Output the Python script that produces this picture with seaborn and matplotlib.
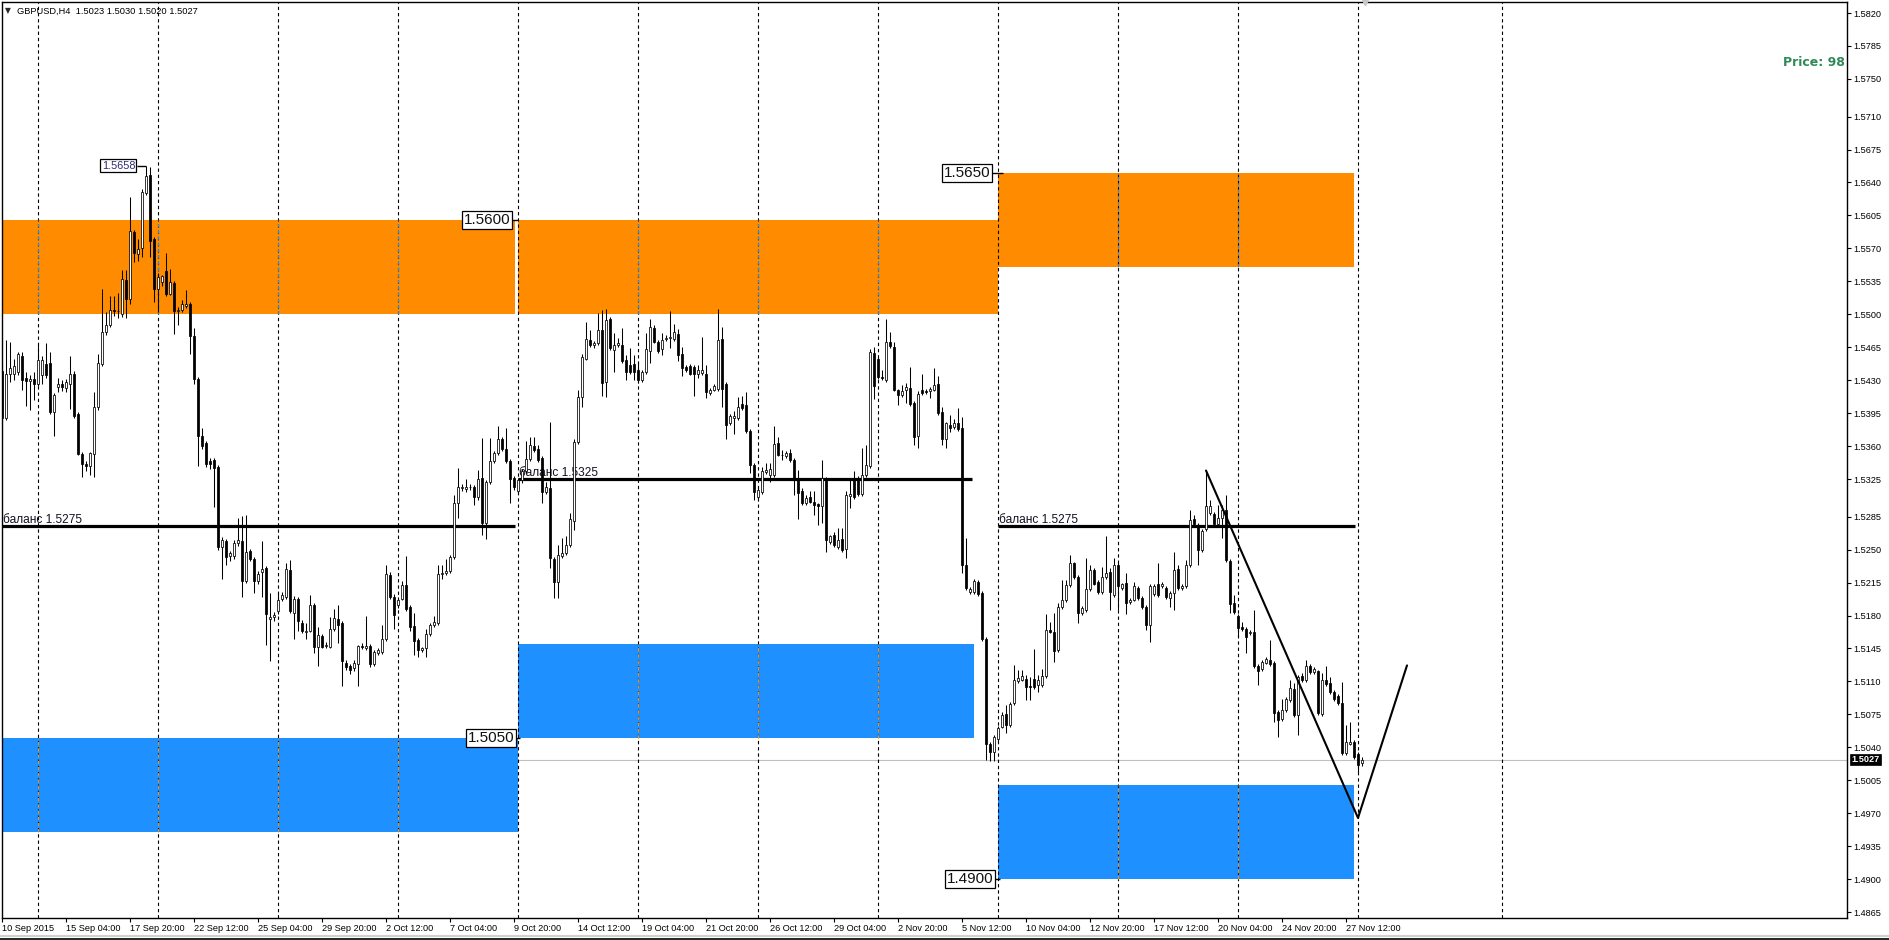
import numpy as np
import pandas as pd
import matplotlib
matplotlib.use("Agg")
import matplotlib.pyplot as plt
import matplotlib.transforms as mtransforms
from matplotlib.patches import Rectangle
import seaborn as sns

# ---------------- data (GBPUSD H4 candles) ----------------
OPEN = [
 1.5440, 1.5390, 1.5437, 1.5437, 1.5439, 1.5456, 1.5432, 1.5429, 1.5431, 1.5426,
 1.5436, 1.5447, 1.5448, 1.5396, 1.5423, 1.5426, 1.5422, 1.5426, 1.5437, 1.5394,
 1.5352, 1.5341, 1.5339, 1.5352, 1.5401, 1.5447, 1.5481, 1.5489, 1.5505, 1.5503,
 1.5500, 1.5536, 1.5516, 1.5587, 1.5564, 1.5570, 1.5629, 1.5648, 1.5580, 1.5527,
 1.5534, 1.5546, 1.5522, 1.5533, 1.5503, 1.5505, 1.5509, 1.5511, 1.5477, 1.5431,
 1.5371, 1.5363, 1.5344, 1.5345, 1.5338, 1.5253, 1.5259, 1.5243, 1.5243, 1.5257,
 1.5259, 1.5217, 1.5249, 1.5240, 1.5217, 1.5226, 1.5230, 1.5176, 1.5178, 1.5185,
 1.5198, 1.5200, 1.5228, 1.5183, 1.5198, 1.5172, 1.5163, 1.5164, 1.5191, 1.5147,
 1.5158, 1.5148, 1.5147, 1.5166, 1.5176, 1.5172, 1.5130, 1.5126, 1.5124, 1.5128,
 1.5148, 1.5146, 1.5148, 1.5128, 1.5140, 1.5141, 1.5155, 1.5223, 1.5200, 1.5191,
 1.5198, 1.5212, 1.5189, 1.5169, 1.5154, 1.5143, 1.5145, 1.5160, 1.5170, 1.5172,
 1.5224, 1.5225, 1.5227, 1.5242, 1.5299, 1.5315, 1.5314, 1.5316, 1.5317, 1.5306,
 1.5326, 1.5278, 1.5322, 1.5344, 1.5353, 1.5368, 1.5357, 1.5344, 1.5326, 1.5312,
 1.5324, 1.5333, 1.5346, 1.5360, 1.5357, 1.5347, 1.5311, 1.5315, 1.5240, 1.5216,
 1.5243, 1.5246, 1.5255, 1.5280, 1.5364, 1.5412, 1.5453, 1.5473, 1.5467, 1.5469,
 1.5483, 1.5428, 1.5495, 1.5462, 1.5467, 1.5467, 1.5451, 1.5446, 1.5447, 1.5441,
 1.5430, 1.5439, 1.5461, 1.5485, 1.5471, 1.5463, 1.5474, 1.5475, 1.5474, 1.5479,
 1.5458, 1.5444, 1.5445, 1.5444, 1.5437, 1.5438, 1.5437, 1.5416, 1.5420, 1.5421,
 1.5474, 1.5426, 1.5384, 1.5390, 1.5390, 1.5405, 1.5404, 1.5376, 1.5340, 1.5306,
 1.5311, 1.5332, 1.5329, 1.5329, 1.5363, 1.5351, 1.5349, 1.5353, 1.5345, 1.5324,
 1.5312, 1.5299, 1.5306, 1.5301, 1.5298, 1.5296, 1.5326, 1.5258, 1.5266, 1.5253,
 1.5261, 1.5251, 1.5307, 1.5325, 1.5326, 1.5309, 1.5329, 1.5339, 1.5459, 1.5453,
 1.5433, 1.5430, 1.5471, 1.5465, 1.5420, 1.5414, 1.5420, 1.5422, 1.5406, 1.5371,
 1.5420, 1.5419, 1.5418, 1.5420, 1.5426, 1.5396, 1.5368, 1.5382, 1.5380, 1.5384,
 1.5379, 1.5234, 1.5205, 1.5205, 1.5216, 1.5204, 1.5155, 1.5044, 1.5035, 1.5049,
 1.5062, 1.5075, 1.5064, 1.5087, 1.5110, 1.5112, 1.5113, 1.5105, 1.5113, 1.5106,
 1.5106, 1.5116, 1.5165, 1.5162, 1.5143, 1.5189, 1.5196, 1.5212, 1.5236, 1.5221,
 1.5183, 1.5186, 1.5208, 1.5228, 1.5216, 1.5205, 1.5221, 1.5226, 1.5202, 1.5234,
 1.5209, 1.5215, 1.5194, 1.5197, 1.5209, 1.5199, 1.5189, 1.5170, 1.5203, 1.5213,
 1.5211, 1.5209, 1.5199, 1.5204, 1.5229, 1.5209, 1.5211, 1.5234, 1.5282, 1.5276,
 1.5250, 1.5272, 1.5289, 1.5288, 1.5277, 1.5284, 1.5292, 1.5238, 1.5193, 1.5180,
 1.5168, 1.5166, 1.5161, 1.5162, 1.5126, 1.5123, 1.5130, 1.5133, 1.5130, 1.5078,
 1.5070, 1.5080, 1.5090, 1.5102, 1.5074, 1.5116, 1.5111, 1.5126, 1.5120, 1.5121,
 1.5075, 1.5112, 1.5108, 1.5099, 1.5095, 1.5087, 1.5034, 1.5044, 1.5046, 1.5033, 1.5023,
]
HIGH = [
 1.5448, 1.5473, 1.5471, 1.5452, 1.5460, 1.5460, 1.5439, 1.5436, 1.5439, 1.5467,
 1.5456, 1.5470, 1.5460, 1.5416, 1.5432, 1.5430, 1.5431, 1.5456, 1.5440, 1.5396,
 1.5354, 1.5344, 1.5354, 1.5417, 1.5458, 1.5527, 1.5502, 1.5519, 1.5519, 1.5523,
 1.5547, 1.5547, 1.5625, 1.5590, 1.5580, 1.5633, 1.5658, 1.5656, 1.5582, 1.5544,
 1.5542, 1.5565, 1.5548, 1.5535, 1.5508, 1.5515, 1.5526, 1.5513, 1.5485, 1.5433,
 1.5379, 1.5365, 1.5347, 1.5347, 1.5340, 1.5263, 1.5261, 1.5249, 1.5260, 1.5284,
 1.5286, 1.5287, 1.5251, 1.5242, 1.5227, 1.5259, 1.5233, 1.5204, 1.5184, 1.5204,
 1.5205, 1.5236, 1.5239, 1.5201, 1.5200, 1.5175, 1.5172, 1.5202, 1.5193, 1.5168,
 1.5160, 1.5152, 1.5178, 1.5187, 1.5191, 1.5174, 1.5133, 1.5128, 1.5133, 1.5149,
 1.5151, 1.5179, 1.5150, 1.5143, 1.5146, 1.5170, 1.5234, 1.5226, 1.5203, 1.5200,
 1.5217, 1.5243, 1.5191, 1.5183, 1.5156, 1.5147, 1.5166, 1.5172, 1.5179, 1.5234,
 1.5234, 1.5240, 1.5244, 1.5308, 1.5337, 1.5320, 1.5325, 1.5320, 1.5319, 1.5335,
 1.5369, 1.5324, 1.5369, 1.5355, 1.5381, 1.5370, 1.5379, 1.5346, 1.5328, 1.5326,
 1.5336, 1.5365, 1.5370, 1.5370, 1.5361, 1.5349, 1.5322, 1.5386, 1.5242, 1.5255,
 1.5262, 1.5265, 1.5289, 1.5368, 1.5420, 1.5458, 1.5492, 1.5483, 1.5472, 1.5501,
 1.5505, 1.5506, 1.5497, 1.5480, 1.5475, 1.5485, 1.5457, 1.5464, 1.5457, 1.5448,
 1.5441, 1.5480, 1.5495, 1.5489, 1.5473, 1.5480, 1.5478, 1.5504, 1.5490, 1.5484,
 1.5465, 1.5446, 1.5447, 1.5446, 1.5446, 1.5476, 1.5446, 1.5422, 1.5426, 1.5506,
 1.5487, 1.5428, 1.5394, 1.5397, 1.5412, 1.5413, 1.5417, 1.5378, 1.5342, 1.5316,
 1.5338, 1.5342, 1.5342, 1.5381, 1.5370, 1.5356, 1.5355, 1.5357, 1.5347, 1.5335,
 1.5315, 1.5308, 1.5312, 1.5312, 1.5300, 1.5345, 1.5327, 1.5266, 1.5269, 1.5273,
 1.5273, 1.5312, 1.5324, 1.5334, 1.5328, 1.5358, 1.5361, 1.5463, 1.5465, 1.5455,
 1.5441, 1.5495, 1.5481, 1.5471, 1.5421, 1.5425, 1.5427, 1.5444, 1.5408, 1.5418,
 1.5437, 1.5421, 1.5423, 1.5443, 1.5434, 1.5401, 1.5386, 1.5393, 1.5389, 1.5400,
 1.5391, 1.5262, 1.5210, 1.5219, 1.5218, 1.5206, 1.5157, 1.5046, 1.5053, 1.5063,
 1.5078, 1.5085, 1.5088, 1.5127, 1.5122, 1.5122, 1.5117, 1.5115, 1.5144, 1.5117,
 1.5123, 1.5182, 1.5173, 1.5183, 1.5193, 1.5218, 1.5218, 1.5244, 1.5237, 1.5223,
 1.5190, 1.5241, 1.5234, 1.5230, 1.5218, 1.5232, 1.5264, 1.5230, 1.5241, 1.5237,
 1.5215, 1.5225, 1.5199, 1.5216, 1.5211, 1.5201, 1.5191, 1.5213, 1.5213, 1.5236,
 1.5216, 1.5211, 1.5206, 1.5248, 1.5234, 1.5213, 1.5239, 1.5292, 1.5287, 1.5278,
 1.5272, 1.5334, 1.5303, 1.5290, 1.5297, 1.5297, 1.5308, 1.5240, 1.5202, 1.5182,
 1.5173, 1.5168, 1.5165, 1.5186, 1.5128, 1.5133, 1.5136, 1.5154, 1.5132, 1.5080,
 1.5091, 1.5093, 1.5111, 1.5108, 1.5117, 1.5119, 1.5133, 1.5128, 1.5125, 1.5122,
 1.5119, 1.5126, 1.5115, 1.5101, 1.5097, 1.5109, 1.5064, 1.5067, 1.5048, 1.5035, 1.5030,
]
LOW = [
 1.5368, 1.5388, 1.5428, 1.5430, 1.5435, 1.5420, 1.5403, 1.5398, 1.5409, 1.5424,
 1.5426, 1.5432, 1.5394, 1.5371, 1.5417, 1.5418, 1.5417, 1.5399, 1.5390, 1.5350,
 1.5327, 1.5333, 1.5329, 1.5327, 1.5398, 1.5445, 1.5478, 1.5486, 1.5498, 1.5496,
 1.5497, 1.5496, 1.5511, 1.5555, 1.5557, 1.5561, 1.5627, 1.5561, 1.5513, 1.5502,
 1.5530, 1.5519, 1.5520, 1.5479, 1.5489, 1.5502, 1.5507, 1.5458, 1.5426, 1.5339,
 1.5357, 1.5338, 1.5336, 1.5295, 1.5250, 1.5219, 1.5234, 1.5238, 1.5240, 1.5254,
 1.5200, 1.5215, 1.5238, 1.5204, 1.5214, 1.5200, 1.5149, 1.5132, 1.5174, 1.5182,
 1.5195, 1.5198, 1.5183, 1.5155, 1.5164, 1.5161, 1.5155, 1.5163, 1.5140, 1.5126,
 1.5145, 1.5145, 1.5145, 1.5164, 1.5151, 1.5105, 1.5122, 1.5118, 1.5121, 1.5105,
 1.5144, 1.5143, 1.5125, 1.5126, 1.5138, 1.5139, 1.5153, 1.5198, 1.5166, 1.5188,
 1.5196, 1.5185, 1.5164, 1.5138, 1.5136, 1.5141, 1.5136, 1.5158, 1.5168, 1.5170,
 1.5219, 1.5223, 1.5225, 1.5240, 1.5284, 1.5312, 1.5311, 1.5313, 1.5297, 1.5303,
 1.5266, 1.5261, 1.5320, 1.5342, 1.5351, 1.5355, 1.5342, 1.5299, 1.5313, 1.5310,
 1.5321, 1.5331, 1.5344, 1.5354, 1.5343, 1.5299, 1.5309, 1.5230, 1.5199, 1.5199,
 1.5241, 1.5244, 1.5253, 1.5271, 1.5362, 1.5402, 1.5451, 1.5465, 1.5464, 1.5467,
 1.5413, 1.5412, 1.5462, 1.5439, 1.5465, 1.5448, 1.5430, 1.5437, 1.5430, 1.5427,
 1.5428, 1.5437, 1.5448, 1.5469, 1.5459, 1.5457, 1.5472, 1.5464, 1.5472, 1.5450,
 1.5434, 1.5439, 1.5435, 1.5413, 1.5432, 1.5436, 1.5411, 1.5414, 1.5418, 1.5419,
 1.5402, 1.5368, 1.5382, 1.5373, 1.5388, 1.5398, 1.5374, 1.5331, 1.5303, 1.5304,
 1.5309, 1.5330, 1.5322, 1.5327, 1.5349, 1.5345, 1.5347, 1.5343, 1.5308, 1.5282,
 1.5297, 1.5297, 1.5299, 1.5287, 1.5276, 1.5278, 1.5248, 1.5256, 1.5253, 1.5251,
 1.5248, 1.5241, 1.5294, 1.5304, 1.5307, 1.5307, 1.5327, 1.5337, 1.5410, 1.5431,
 1.5430, 1.5428, 1.5464, 1.5418, 1.5404, 1.5412, 1.5406, 1.5403, 1.5361, 1.5358,
 1.5414, 1.5415, 1.5411, 1.5418, 1.5393, 1.5361, 1.5358, 1.5375, 1.5378, 1.5376,
 1.5225, 1.5207, 1.5203, 1.5203, 1.5201, 1.5153, 1.5027, 1.5026, 1.5025, 1.5047,
 1.5060, 1.5055, 1.5062, 1.5085, 1.5108, 1.5110, 1.5090, 1.5090, 1.5102, 1.5099,
 1.5104, 1.5114, 1.5161, 1.5131, 1.5141, 1.5187, 1.5194, 1.5210, 1.5219, 1.5172,
 1.5181, 1.5184, 1.5206, 1.5212, 1.5203, 1.5203, 1.5219, 1.5186, 1.5200, 1.5186,
 1.5207, 1.5182, 1.5192, 1.5195, 1.5197, 1.5187, 1.5165, 1.5152, 1.5201, 1.5200,
 1.5209, 1.5198, 1.5189, 1.5186, 1.5207, 1.5207, 1.5209, 1.5232, 1.5275, 1.5234,
 1.5248, 1.5270, 1.5287, 1.5275, 1.5275, 1.5262, 1.5237, 1.5183, 1.5182, 1.5157,
 1.5164, 1.5140, 1.5159, 1.5124, 1.5106, 1.5121, 1.5128, 1.5126, 1.5067, 1.5051,
 1.5068, 1.5078, 1.5088, 1.5072, 1.5053, 1.5109, 1.5109, 1.5118, 1.5118, 1.5074,
 1.5073, 1.5105, 1.5097, 1.5089, 1.5085, 1.5032, 1.5032, 1.5042, 1.5028, 1.5014, 1.5020,
]
CLOSE = [
 1.5390, 1.5437, 1.5443, 1.5445, 1.5458, 1.5430, 1.5429, 1.5431, 1.5426, 1.5451,
 1.5451, 1.5435, 1.5396, 1.5414, 1.5426, 1.5423, 1.5428, 1.5437, 1.5392, 1.5352,
 1.5341, 1.5339, 1.5353, 1.5401, 1.5448, 1.5481, 1.5489, 1.5505, 1.5503, 1.5504,
 1.5537, 1.5516, 1.5588, 1.5565, 1.5569, 1.5630, 1.5647, 1.5578, 1.5527, 1.5540,
 1.5541, 1.5521, 1.5534, 1.5503, 1.5505, 1.5511, 1.5511, 1.5477, 1.5431, 1.5371,
 1.5360, 1.5341, 1.5341, 1.5337, 1.5253, 1.5260, 1.5242, 1.5246, 1.5257, 1.5260,
 1.5217, 1.5248, 1.5240, 1.5217, 1.5224, 1.5229, 1.5182, 1.5178, 1.5181, 1.5196,
 1.5202, 1.5229, 1.5185, 1.5198, 1.5174, 1.5164, 1.5164, 1.5191, 1.5147, 1.5159,
 1.5147, 1.5149, 1.5166, 1.5177, 1.5170, 1.5132, 1.5125, 1.5122, 1.5130, 1.5148,
 1.5147, 1.5148, 1.5128, 1.5141, 1.5143, 1.5155, 1.5224, 1.5200, 1.5181, 1.5197,
 1.5212, 1.5187, 1.5168, 1.5153, 1.5143, 1.5145, 1.5160, 1.5170, 1.5173, 1.5224,
 1.5225, 1.5227, 1.5242, 1.5299, 1.5316, 1.5317, 1.5316, 1.5317, 1.5306, 1.5325,
 1.5278, 1.5322, 1.5344, 1.5353, 1.5368, 1.5357, 1.5344, 1.5325, 1.5316, 1.5324,
 1.5333, 1.5346, 1.5361, 1.5356, 1.5345, 1.5311, 1.5316, 1.5241, 1.5216, 1.5244,
 1.5246, 1.5255, 1.5282, 1.5364, 1.5412, 1.5455, 1.5474, 1.5467, 1.5470, 1.5483,
 1.5427, 1.5494, 1.5464, 1.5467, 1.5469, 1.5450, 1.5439, 1.5439, 1.5439, 1.5430,
 1.5439, 1.5463, 1.5486, 1.5471, 1.5461, 1.5473, 1.5475, 1.5476, 1.5481, 1.5457,
 1.5443, 1.5441, 1.5437, 1.5437, 1.5441, 1.5441, 1.5417, 1.5420, 1.5424, 1.5473,
 1.5421, 1.5382, 1.5392, 1.5392, 1.5402, 1.5400, 1.5376, 1.5340, 1.5311, 1.5313,
 1.5333, 1.5335, 1.5336, 1.5362, 1.5351, 1.5350, 1.5353, 1.5345, 1.5324, 1.5310,
 1.5299, 1.5305, 1.5301, 1.5297, 1.5296, 1.5326, 1.5260, 1.5264, 1.5255, 1.5260,
 1.5250, 1.5308, 1.5309, 1.5306, 1.5309, 1.5329, 1.5340, 1.5460, 1.5424, 1.5433,
 1.5432, 1.5471, 1.5466, 1.5420, 1.5414, 1.5419, 1.5423, 1.5405, 1.5370, 1.5415,
 1.5416, 1.5417, 1.5421, 1.5425, 1.5395, 1.5368, 1.5384, 1.5379, 1.5385, 1.5378,
 1.5234, 1.5209, 1.5208, 1.5217, 1.5203, 1.5155, 1.5044, 1.5035, 1.5051, 1.5061,
 1.5074, 1.5064, 1.5086, 1.5112, 1.5114, 1.5116, 1.5104, 1.5104, 1.5104, 1.5112,
 1.5116, 1.5165, 1.5163, 1.5142, 1.5189, 1.5196, 1.5212, 1.5236, 1.5221, 1.5183,
 1.5188, 1.5208, 1.5228, 1.5214, 1.5205, 1.5221, 1.5225, 1.5205, 1.5234, 1.5211,
 1.5213, 1.5193, 1.5197, 1.5211, 1.5199, 1.5189, 1.5170, 1.5211, 1.5211, 1.5202,
 1.5214, 1.5200, 1.5204, 1.5228, 1.5209, 1.5211, 1.5234, 1.5281, 1.5277, 1.5250,
 1.5270, 1.5296, 1.5296, 1.5277, 1.5284, 1.5292, 1.5239, 1.5192, 1.5184, 1.5167,
 1.5166, 1.5157, 1.5163, 1.5126, 1.5121, 1.5131, 1.5134, 1.5128, 1.5076, 1.5069,
 1.5080, 1.5091, 1.5103, 1.5074, 1.5115, 1.5111, 1.5126, 1.5120, 1.5123, 1.5076,
 1.5112, 1.5107, 1.5099, 1.5091, 1.5087, 1.5034, 1.5046, 1.5046, 1.5030, 1.5021, 1.5027,
]

SYMBOL = "GBPUSD,H4"
TIME_LABELS = ["10 Sep 2015", "15 Sep 04:00", "17 Sep 20:00", "22 Sep 12:00", "25 Sep 04:00",
               "29 Sep 20:00", "2 Oct 12:00", "7 Oct 04:00", "9 Oct 20:00", "14 Oct 12:00",
               "19 Oct 04:00", "21 Oct 20:00", "26 Oct 12:00", "29 Oct 04:00", "2 Nov 20:00",
               "5 Nov 12:00", "10 Nov 04:00", "12 Nov 20:00", "17 Nov 12:00", "20 Nov 04:00",
               "24 Nov 20:00", "27 Nov 12:00"]
PRICE_TICKS = [1.5820, 1.5785, 1.5750, 1.5710, 1.5675, 1.5640, 1.5605, 1.5570, 1.5535,
               1.5500, 1.5465, 1.5430, 1.5395, 1.5360, 1.5325, 1.5285, 1.5250, 1.5215,
               1.5180, 1.5145, 1.5110, 1.5075, 1.5040, 1.5005, 1.4970, 1.4935, 1.4900, 1.4865]

# supply (orange) / demand (blue) zones: start bar, end bar, low, high
SUPPLY_START = [0, 129, 249]
SUPPLY_END = [128.25, 249, 338]
SUPPLY_LOW = [1.5500, 1.5500, 1.5550]
SUPPLY_HIGH = [1.5600, 1.5600, 1.5650]
DEMAND_START = [0, 129, 249]
DEMAND_END = [129, 243, 338]
DEMAND_LOW = [1.4950, 1.5050, 1.4900]
DEMAND_HIGH = [1.5050, 1.5150, 1.5000]

# balance lines
BAL_LEVEL = [1.5275, 1.5325, 1.5275]
BAL_START = [0, 129, 249]
BAL_END = [128.25, 242.5, 338.25]

# price labels with boxes (text, price, bar of box right edge, bar of anchor)
LBL_TEXT = ["1.5658", "1.5600", "1.5650", "1.5050", "1.4900"]
LBL_PRICE = [1.5658, 1.5600, 1.5650, 1.5050, 1.4900]
LBL_RIGHT = [33.75, 127.5, 247.5, 128.5, 248.25]
LBL_ANCHOR = [36, 129, 250.25, 129.5, 249.5]
LBL_SIZE = [7.8, 11, 11, 11, 11]

# hand-drawn zigzag line
TREND_BAR = [301, 339, 351.25]
TREND_PRICE = [1.5334, 1.4965, 1.5127]

PRICE_INFO = "Price: 98"

assert len(OPEN) == len(HIGH) == len(LOW) == len(CLOSE), (len(OPEN), len(HIGH), len(LOW), len(CLOSE))

# ---------------- figure ----------------
sns.set_theme(style="white")
plt.rcParams['font.family'] = ['Liberation Sans', 'DejaVu Sans']

W, H = 1889, 940
fig = plt.figure(figsize=(W / 100, H / 100), dpi=100)
fig.patch.set_facecolor('white')
ax = fig.add_axes([2 / W, (H - 918) / H, (1847 - 2) / W, (918 - 2) / H])
ax.set_facecolor('white')

df = pd.DataFrame({'bar': np.arange(len(CLOSE)), 'open': OPEN, 'high': HIGH,
                   'low': LOW, 'close': CLOSE})

ax.set_xlim(0, 461.25)
ax.set_ylim(1.48587, 1.58317)

ORANGE = '#FF8C00'
BLUE = '#1E90FF'

# current price line (behind the zones)
ax.axhline(CLOSE[-1], color='#c0c0c0', lw=0.8, zorder=0.5)

zones = []
for s, e, lo, hi in zip(SUPPLY_START, SUPPLY_END, SUPPLY_LOW, SUPPLY_HIGH):
    zones.append((s, e, lo, hi, ORANGE, BLUE))
for s, e, lo, hi in zip(DEMAND_START, DEMAND_END, DEMAND_LOW, DEMAND_HIGH):
    zones.append((s, e, lo, hi, BLUE, ORANGE))
for s, e, lo, hi, col, _ in zones:
    ax.add_patch(Rectangle((s, lo), e - s, hi - lo, facecolor=col, edgecolor='none', zorder=1))

# vertical grid (every 30 bars) + one in the shift area
grid_bars = [9 + 30 * k for k in range(12)] + [375]
dash = (0, (3, 2.6))
for g in grid_bars:
    ax.axvline(g, color='black', lw=0.8, ls=dash, zorder=2)
    for s, e, lo, hi, col, comp in zones:
        if s < g < e:
            ax.vlines(g, lo, hi, color=comp, lw=0.8, ls=dash, zorder=2.1)

# balance lines
for lvl, s, e in zip(BAL_LEVEL, BAL_START, BAL_END):
    ax.hlines(lvl, s, e, color='black', lw=2.3, zorder=3)
    ax.text(s + 0.25, lvl + 0.00034, f"баланс {lvl:.4f}", fontsize=8.6, color='#111122',
            ha='left', va='baseline', zorder=3)

# candles
up = df['close'] >= df['open']
ax.vlines(df['bar'], df['low'], df['high'], color='black', lw=0.75, zorder=4)
body_lo = np.minimum(df['open'], df['close'])
body_h = np.maximum(np.abs(df['close'] - df['open']), 0.00006)
ax.bar(df['bar'], body_h, bottom=body_lo, width=0.68,
       color=np.where(up, 'white', 'black'), edgecolor='black', linewidth=0.55, zorder=4.5)

# zigzag
sns.lineplot(x=TREND_BAR, y=TREND_PRICE, ax=ax, color='black', linewidth=1.5,
             sort=False, estimator=None, zorder=5)

# boxed price labels
for t, p, r, a, fs in zip(LBL_TEXT, LBL_PRICE, LBL_RIGHT, LBL_ANCHOR, LBL_SIZE):
    ax.plot([r, a], [p, p], color='black', lw=1.0, zorder=6, solid_capstyle='butt')
    ax.text(r - 0.45, p, t, fontsize=fs, ha='right', va='center',
            color='#111111' if fs > 8 else '#2a2a70', zorder=7,
            bbox=dict(boxstyle='square,pad=0.12', fc='white', ec='black', lw=0.9))

# axes / ticks
for sp in ax.spines.values():
    sp.set_color('black')
    sp.set_linewidth(1.0)
ax.grid(False)
ax.yaxis.tick_right()
ax.set_yticks(PRICE_TICKS)
ax.set_yticklabels([f"{v:.4f}" for v in PRICE_TICKS])
ax.tick_params(axis='y', which='both', right=True, left=False, direction='out', length=3,
               width=0.8, pad=1.5, labelsize=6.6, colors='black')
xt = [0] + [16 * k for k in range(1, len(TIME_LABELS))]
ax.set_xticks(xt)
ax.set_xticklabels(TIME_LABELS, ha='left')
ax.tick_params(axis='x', which='both', bottom=True, direction='out', length=3, width=0.8,
               pad=1.2, labelsize=6.6, colors='black')
ax.set_xlabel('')
ax.set_ylabel('')

# current price tag on axis
trans = mtransforms.blended_transform_factory(ax.transAxes, ax.transData)
ax.text(1.0025, CLOSE[-1], f"{CLOSE[-1]:.4f}", transform=trans, fontsize=6.6, color='white',
        fontweight='bold', ha='left', va='center', clip_on=False, zorder=8,
        bbox=dict(boxstyle='square,pad=0.15', fc='black', ec='black', lw=0.5))

# chart shift marker
ax.scatter([340.75], [1.58317], marker='v', s=22, color='#c8c8c8', clip_on=False, zorder=8)

# header
fig.text(5 / W, 1 - 11 / H, "▼", fontsize=5.5, family=['DejaVu Sans'], va='center', ha='left')
fig.text(17 / W, 1 - 11 / H,
         f"{SYMBOL}  {OPEN[-1]:.4f} {HIGH[-1]:.4f} {LOW[-1]:.4f} {CLOSE[-1]:.4f}",
         fontsize=6.7, va='center', ha='left', color='black')

# info text
fig.text(1845 / W, 1 - 63 / H, PRICE_INFO, fontsize=9, fontweight='bold', family=['DejaVu Sans'],
         color='#2E8B57', ha='right', va='center')

# window bottom border
fig.add_artist(plt.Line2D([0, 1], [1.5 / H, 1.5 / H], color='black', lw=1.2))
fig.add_artist(plt.Line2D([0, 1], [4 / H, 4 / H], color='#d0d0d0', lw=1.5))

fig.savefig('out.png', dpi=100)
